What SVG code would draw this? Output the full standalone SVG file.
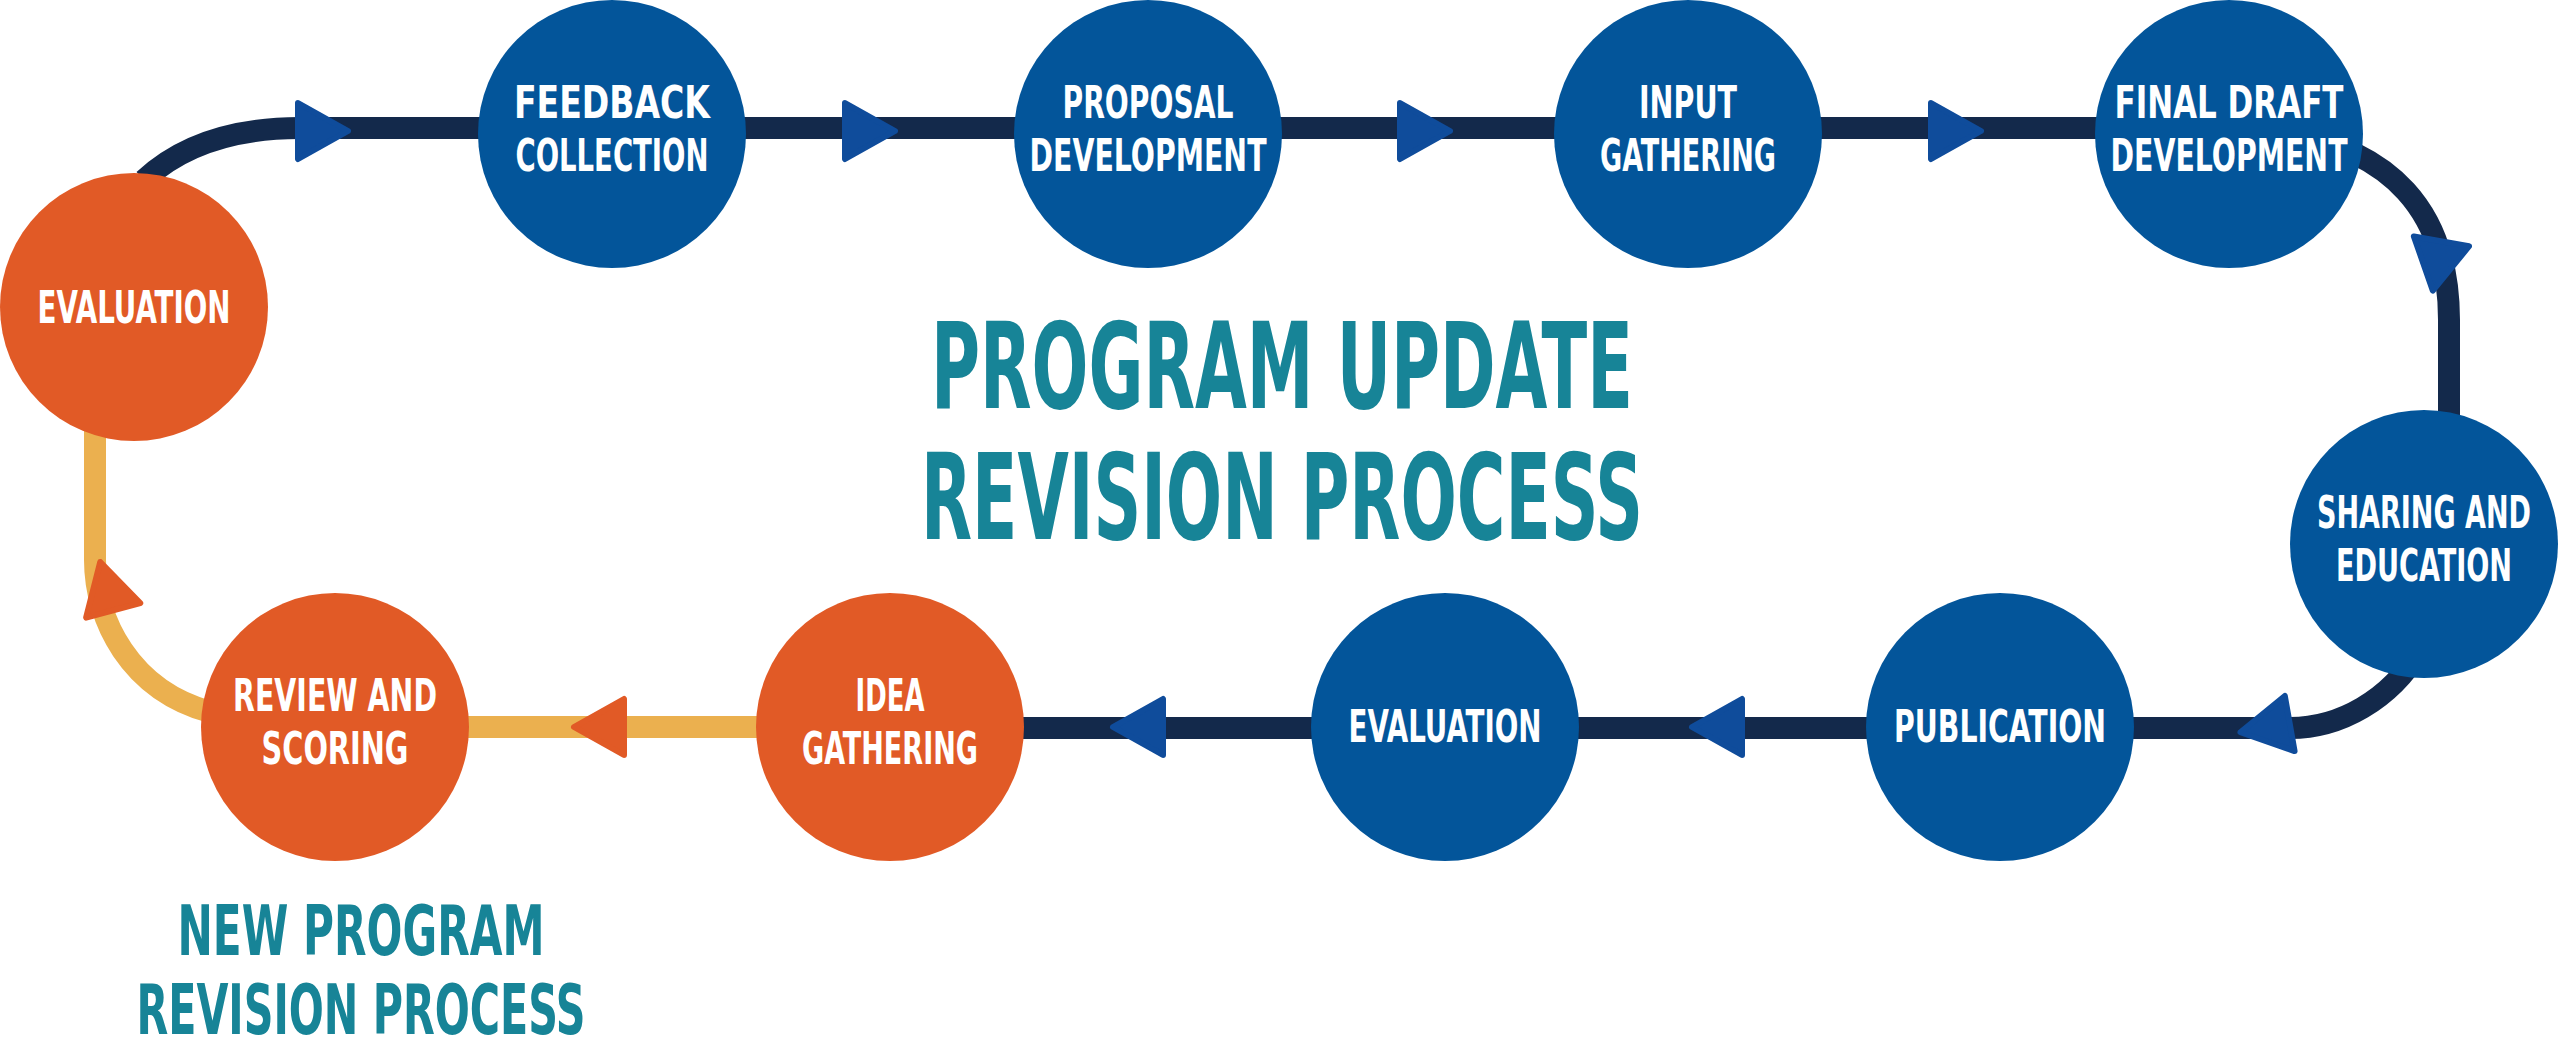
<svg xmlns="http://www.w3.org/2000/svg" width="2560" height="1058" viewBox="0 0 2560 1058">
<style>
.navy{fill:none;stroke:#13294B;stroke-width:22}
.org{fill:none;stroke:#EBB04F;stroke-width:22}
.blue{fill:#03559A}
.orange{fill:#E15A26}
.lbl{font-family:"DejaVu Sans Condensed","DejaVu Sans",sans-serif;font-weight:bold;font-size:44px;fill:#fff;text-anchor:middle}
.title{font-family:"DejaVu Sans Condensed","DejaVu Sans",sans-serif;font-weight:bold;fill:#178497;text-anchor:middle}
</style>
<defs>
<path id="tri" d="M-20,-28 L30,0 L-20,28 Z" stroke-linejoin="round" stroke-width="6"/>
</defs>
<rect width="2560" height="1058" fill="#fff"/>
<g id="connectors">
<path class="navy" d="M144,180 Q200,128 300,128 L2250,128 C2400,140 2449,220 2449,320 L2449,440"/>
<path class="navy" d="M2420,650 C2390,700 2340,728 2290,728 L900,728"/>
<path class="org" d="M890,727 L335,727"/>
<path class="org" d="M210,712 C130,690 95,620 95,560 L95,420"/>
<g fill="#0F4C9B" stroke="#0F4C9B">
<use href="#tri" transform="translate(318,131)"/>
<use href="#tri" transform="translate(865,131)"/>
<use href="#tri" transform="translate(1420,131)"/>
<use href="#tri" transform="translate(1951,131)"/>
<use href="#tri" transform="translate(2438,261) rotate(100)"/>
<use href="#tri" transform="translate(2270,727) rotate(170)"/>
<use href="#tri" transform="translate(1722,727) rotate(180)"/>
<use href="#tri" transform="translate(1143,727) rotate(180)"/>
</g>
<g fill="#E15A26" stroke="#E15A26">
<use href="#tri" transform="translate(604,727) rotate(180)"/>
<use href="#tri" transform="translate(108,591) rotate(-105)"/>
</g>
</g>
<g id="n1"><circle class="blue" cx="612" cy="134" r="134"/><text class="lbl" x="612" y="118" textLength="196" lengthAdjust="spacingAndGlyphs">FEEDBACK</text><text class="lbl" x="612" y="171" textLength="193" lengthAdjust="spacingAndGlyphs">COLLECTION</text></g>
<g id="n2"><circle class="blue" cx="1148" cy="134" r="134"/><text class="lbl" x="1148" y="118" textLength="171" lengthAdjust="spacingAndGlyphs">PROPOSAL</text><text class="lbl" x="1148" y="171" textLength="237" lengthAdjust="spacingAndGlyphs">DEVELOPMENT</text></g>
<g id="n3"><circle class="blue" cx="1688" cy="134" r="134"/><text class="lbl" x="1688" y="118" textLength="98" lengthAdjust="spacingAndGlyphs">INPUT</text><text class="lbl" x="1688" y="171" textLength="176" lengthAdjust="spacingAndGlyphs">GATHERING</text></g>
<g id="n4"><circle class="blue" cx="2229" cy="134" r="134"/><text class="lbl" x="2229" y="118" textLength="229" lengthAdjust="spacingAndGlyphs">FINAL DRAFT</text><text class="lbl" x="2229" y="171" textLength="237" lengthAdjust="spacingAndGlyphs">DEVELOPMENT</text></g>
<g id="n5"><circle class="blue" cx="2424" cy="544" r="134"/><text class="lbl" x="2424" y="528" textLength="214" lengthAdjust="spacingAndGlyphs">SHARING AND</text><text class="lbl" x="2424" y="581" textLength="176" lengthAdjust="spacingAndGlyphs">EDUCATION</text></g>
<g id="n6"><circle class="blue" cx="2000" cy="727" r="134"/><text class="lbl" x="2000" y="742" textLength="212" lengthAdjust="spacingAndGlyphs">PUBLICATION</text></g>
<g id="n7"><circle class="blue" cx="1445" cy="727" r="134"/><text class="lbl" x="1445" y="742" textLength="193" lengthAdjust="spacingAndGlyphs">EVALUATION</text></g>
<g id="n8"><circle class="orange" cx="890" cy="727" r="134"/><text class="lbl" x="890" y="711" textLength="69" lengthAdjust="spacingAndGlyphs">IDEA</text><text class="lbl" x="890" y="764" textLength="176" lengthAdjust="spacingAndGlyphs">GATHERING</text></g>
<g id="n9"><circle class="orange" cx="335" cy="727" r="134"/><text class="lbl" x="335" y="711" textLength="204" lengthAdjust="spacingAndGlyphs">REVIEW AND</text><text class="lbl" x="335" y="764" textLength="147" lengthAdjust="spacingAndGlyphs">SCORING</text></g>
<g id="n10"><circle class="orange" cx="134" cy="307" r="134"/><text class="lbl" x="134" y="323" textLength="193" lengthAdjust="spacingAndGlyphs">EVALUATION</text></g>
<g id="title">
<text class="title" x="1282" y="408" font-size="120" textLength="702" lengthAdjust="spacingAndGlyphs">PROGRAM UPDATE</text>
<text class="title" x="1282" y="539" font-size="120" textLength="722" lengthAdjust="spacingAndGlyphs">REVISION PROCESS</text>
<text class="title" x="361" y="955" font-size="70" textLength="367" lengthAdjust="spacingAndGlyphs">NEW PROGRAM</text>
<text class="title" x="361" y="1034" font-size="70" textLength="449" lengthAdjust="spacingAndGlyphs">REVISION PROCESS</text>
</g>
</svg>
